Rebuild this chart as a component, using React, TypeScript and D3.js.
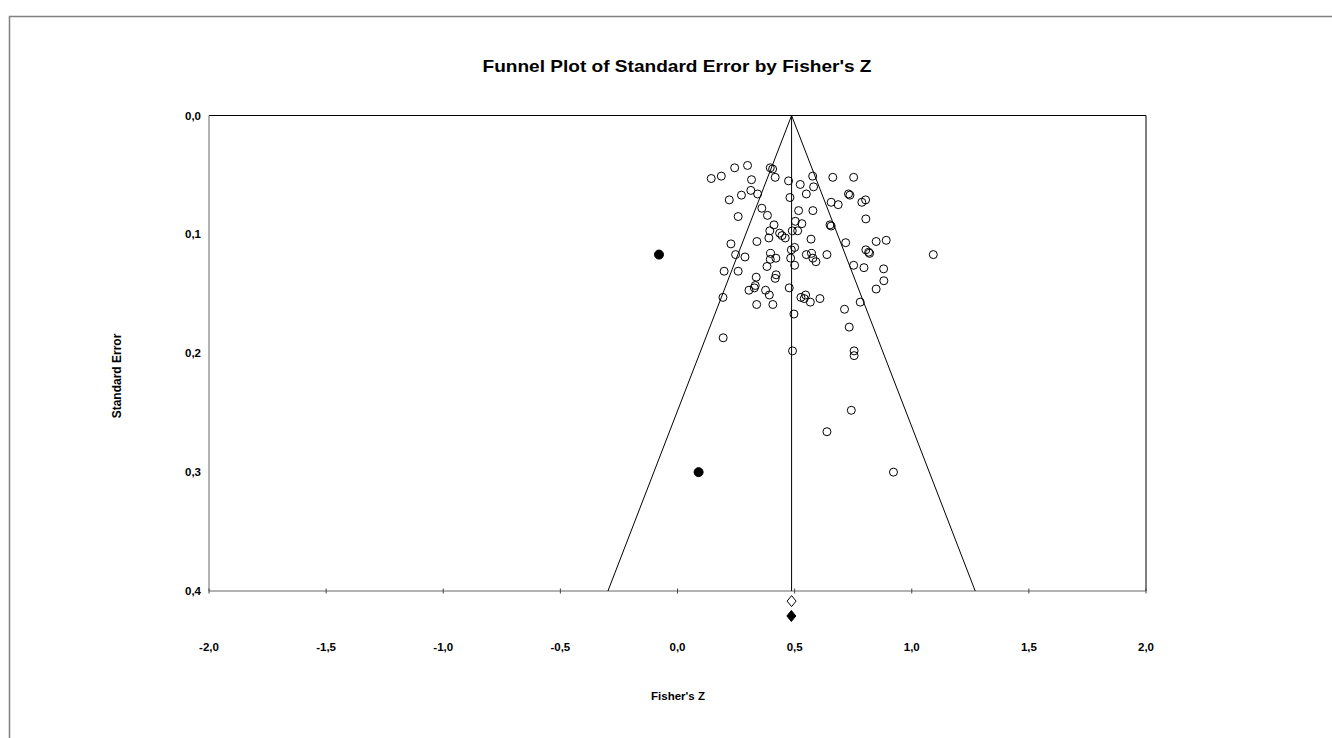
import React from 'react';
import * as d3 from 'd3';

// observed studies: Fisher's Z and its standard error
const studyZ = [
  0.244, 0.299, 0.396, 0.406, 0.144, 0.187, 0.316, 0.417, 0.474, 0.524,
  0.577, 0.663, 0.752, 0.273, 0.313, 0.342, 0.581, 0.55, 0.73, 0.736,
  0.48, 0.221, 0.787, 0.803, 0.656, 0.686, 0.36, 0.384, 0.259, 0.517,
  0.578, 0.804, 0.503, 0.531, 0.651, 0.656, 0.412, 0.394, 0.39, 0.436,
  0.446, 0.46, 0.49, 0.513, 0.339, 0.57, 0.718, 0.848, 0.891, 0.228,
  0.248, 0.288, 0.397, 0.396, 0.42, 0.486, 0.5, 0.483, 0.55, 0.572,
  0.578, 0.591, 0.638, 0.804, 0.816, 0.82, 1.092, 0.382, 0.5, 0.752,
  0.796, 0.88, 0.199, 0.259, 0.336, 0.421, 0.417, 0.332, 0.328, 0.305,
  0.376, 0.392, 0.407, 0.338, 0.477, 0.527, 0.547, 0.541, 0.567, 0.608,
  0.848, 0.881, 0.78, 0.713, 0.194, 0.497, 0.195, 0.733, 0.491, 0.754,
  0.754, 0.742, 0.638, 0.922,
];
const studySE = [
  0.044, 0.042, 0.044, 0.045, 0.053, 0.051, 0.054, 0.052, 0.055, 0.058,
  0.051, 0.052, 0.052, 0.067, 0.063, 0.066, 0.06, 0.066, 0.066, 0.067,
  0.069, 0.071, 0.073, 0.071, 0.073, 0.075, 0.078, 0.084, 0.085, 0.08,
  0.08, 0.087, 0.089, 0.091, 0.092, 0.093, 0.092, 0.097, 0.103, 0.099,
  0.101, 0.103, 0.097, 0.097, 0.106, 0.104, 0.107, 0.106, 0.105, 0.108,
  0.117, 0.119, 0.116, 0.121, 0.12, 0.113, 0.111, 0.12, 0.117, 0.116,
  0.12, 0.123, 0.117, 0.113, 0.115, 0.116, 0.117, 0.127, 0.126, 0.126,
  0.128, 0.129, 0.131, 0.131, 0.136, 0.134, 0.137, 0.143, 0.145, 0.147,
  0.147, 0.151, 0.159, 0.159, 0.145, 0.153, 0.151, 0.154, 0.157, 0.154,
  0.146, 0.139, 0.157, 0.163, 0.153, 0.167, 0.187, 0.178, 0.198, 0.198,
  0.202, 0.248, 0.266, 0.3,
];

// imputed (trim and fill) studies
const imputedZ = [-0.079, 0.09];
const imputedSE = [0.117, 0.3];

// summary effects: observed (open) and adjusted (filled)
const summaryZ = [0.487, 0.486];
const summaryRow = [0.4085, 0.421];
const summaryFilled = [false, true];

const xTicks = [-2, -1.5, -1, -0.5, 0, 0.5, 1, 1.5, 2];
const yTicks = [0, 0.1, 0.2, 0.3, 0.4];

const W = 1332;
const H = 738;
const fmt = (v: number) => d3.format('.1f')(v).replace('.', ',').replace('−', '-');

const App = () => {
  const x = d3.scaleLinear().domain([-2, 2]).range([209, 1146]);
  const y = d3.scaleLinear().domain([0, 0.4]).range([115.5, 591]);
  const mean = summaryZ[0];
  const seMax = 0.4;

  const funnel = d3.line<[number, number]>()
    .x(d => x(d[0]))
    .y(d => y(d[1]));
  const funnelPts: [number, number][] = [
    [mean - 1.96 * seMax, seMax],
    [mean, 0],
    [mean + 1.96 * seMax, seMax],
  ];

  const diamond = (cx: number, cy: number) =>
    `M${cx},${cy - 5.5}L${cx + 4.5},${cy}L${cx},${cy + 5.5}L${cx - 4.5},${cy}Z`;

  const font = 'Arial, "Liberation Sans", sans-serif';

  return (
    <svg width={W} height={H} style={{ position: 'absolute', left: 0, top: 0 }} fontFamily={font}>
      <rect x={0} y={0} width={W} height={H} fill="#fff" />
      {/* outer frame */}
      <path d={`M9.5,${H + 5}V16.5H${W + 5}`} fill="none" stroke="#808080" strokeWidth={1.5} />

      <text x={677} y={72} textAnchor="middle" fontSize={16.5} fontWeight="bold"
        textLength={389} lengthAdjust="spacingAndGlyphs">
        Funnel Plot of Standard Error by Fisher's Z
      </text>

      {/* plot box */}
      <line x1={x(-2)} x2={x(2)} y1={y(0)} y2={y(0)} stroke="#000" />
      <line x1={x(2)} x2={x(2)} y1={y(0)} y2={y(0.4)} stroke="#000" />
      <line x1={x(-2)} x2={x(-2)} y1={y(0)} y2={y(0.4)} stroke="#666" />
      <line x1={x(-2)} x2={x(2)} y1={y(0.4)} y2={y(0.4)} stroke="#666" />

      {xTicks.map(t => (
        <g key={'x' + t}>
          <line x1={x(t)} x2={x(t)} y1={y(0.4) - 2.5} y2={y(0.4) + 2.5} stroke="#444" />
          <text x={x(t)} y={651} textAnchor="middle" fontSize={11.5} fontWeight="bold">{fmt(t)}</text>
        </g>
      ))}
      {yTicks.map(t => (
        <text key={'y' + t} x={201} y={y(t) + 4} textAnchor="end" fontSize={11.5} fontWeight="bold">{fmt(t)}</text>
      ))}

      <text x={678} y={700} textAnchor="middle" fontSize={11.5} fontWeight="bold">Fisher's Z</text>
      <text transform={`translate(121,376) rotate(-90)`} textAnchor="middle" fontSize={12} fontWeight="bold">
        Standard Error
      </text>

      {/* funnel and mean line */}
      <path d={funnel(funnelPts) ?? ''} fill="none" stroke="#000" strokeWidth={1} />
      <line x1={x(mean)} x2={x(mean)} y1={y(0)} y2={y(seMax)} stroke="#000" />

      {studyZ.map((z, i) => (
        <circle key={'s' + i} cx={x(z)} cy={y(studySE[i])} r={4} fill="none" stroke="#000" strokeWidth={1} />
      ))}
      {imputedZ.map((z, i) => (
        <circle key={'m' + i} cx={x(z)} cy={y(imputedSE[i])} r={4.5} fill="#000" stroke="#000" />
      ))}
      {summaryZ.map((z, i) => (
        <path key={'d' + i} d={diamond(x(z), y(summaryRow[i]))}
          fill={summaryFilled[i] ? '#000' : '#fff'} stroke="#000" strokeWidth={1} />
      ))}
    </svg>
  );
};

export default App;
